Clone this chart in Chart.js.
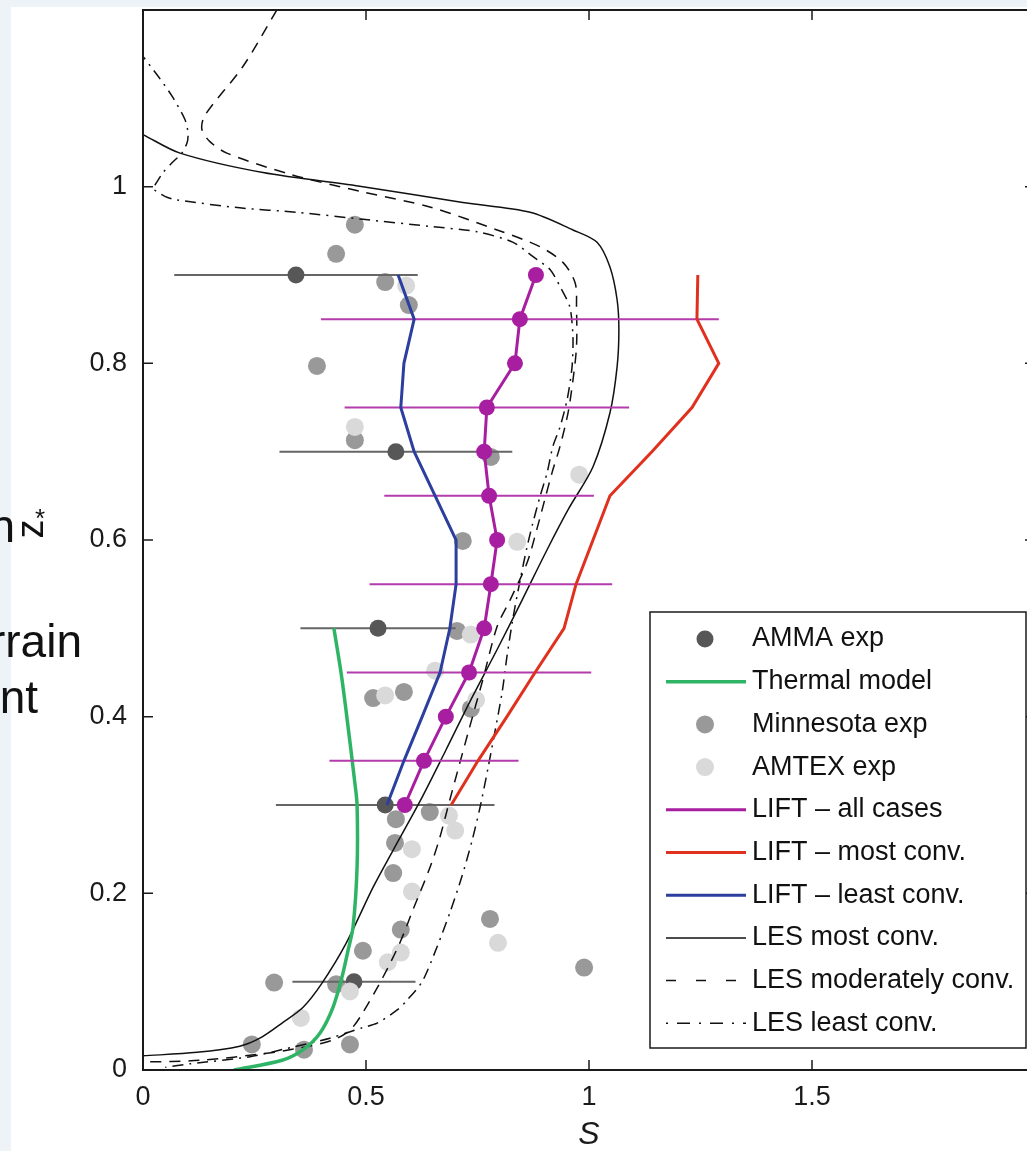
<!DOCTYPE html>
<html>
<head>
<meta charset="utf-8">
<script src="https://cdn.jsdelivr.net/npm/chart.js@4.4.1/dist/chart.umd.min.js"></script>
<style>
  html, body { margin: 0; padding: 0; overflow: hidden; background: #eef3f8; }
  canvas { display: block; }
</style>
</head>
<body>
<canvas id="myChart" width="1045" height="1151"></canvas>
<script>
// LIFT profiles, one value per level
const liftZ = [0.9, 0.85, 0.8, 0.75, 0.7, 0.65, 0.6, 0.55, 0.5, 0.45, 0.4, 0.35, 0.3];
const liftAll = [0.881, 0.845, 0.834, 0.771, 0.765, 0.776, 0.794, 0.780, 0.765, 0.731, 0.679, 0.630, 0.587];
const liftMost = [1.244, 1.242, 1.291, 1.231, 1.141, 1.047, 1.009, 0.971, 0.944, 0.879, 0.816, 0.751, 0.691];
const liftLeast = [0.572, 0.608, 0.585, 0.578, 0.608, 0.655, 0.702, 0.702, 0.688, 0.666, 0.626, 0.585, 0.547];
// spread of "all cases", every other level
const liftBarZ = [0.85, 0.75, 0.65, 0.55, 0.45, 0.35];
const liftSpread = [0.446, 0.319, 0.235, 0.272, 0.274, 0.212];

// AMMA field experiment
const ammaZ = [0.9, 0.7, 0.5, 0.3, 0.1];
const ammaS = [0.343, 0.567, 0.527, 0.543, 0.473];
const ammaSpread = [0.273, 0.261, 0.174, 0.245, 0.138];

const minnesotaS = [0.475, 0.433, 0.543, 0.596, 0.390, 0.475, 0.780, 0.717, 0.704, 0.516, 0.585, 0.735, 0.567,
  0.643, 0.565, 0.561, 0.778, 0.578, 0.493, 0.989, 0.294, 0.433, 0.361, 0.464, 0.244];
const minnesotaZ = [0.957, 0.924, 0.892, 0.866, 0.797, 0.713, 0.694, 0.599, 0.497, 0.421, 0.428, 0.409, 0.284,
  0.292, 0.257, 0.223, 0.171, 0.159, 0.135, 0.116, 0.099, 0.097, 0.023, 0.029, 0.029];

const amtexS = [0.590, 0.475, 0.978, 0.839, 0.735, 0.655, 0.543, 0.747, 0.686, 0.700, 0.603, 0.603, 0.796,
  0.578, 0.549, 0.464, 0.354];
const amtexZ = [0.888, 0.728, 0.674, 0.598, 0.493, 0.452, 0.424, 0.419, 0.288, 0.271, 0.250, 0.202, 0.144,
  0.133, 0.122, 0.089, 0.059];

const thermalS = [0.204, 0.312, 0.359, 0.397, 0.426, 0.446, 0.460, 0.471, 0.480, 0.480, 0.475, 0.457, 0.444, 0.428];
const thermalZ = [0, 0.011, 0.023, 0.042, 0.071, 0.105, 0.136, 0.162, 0.23, 0.3, 0.325, 0.4, 0.45, 0.5];

// LES profiles
const lesMostS = [0, 0.083, 0.269, 0.493, 0.717, 0.868, 0.964, 1.018, 1.047, 1.063, 1.067, 1.063, 1.047, 1.009,
  0.955, 0.906, 0.850, 0.794, 0.735, 0.679, 0.623, 0.561, 0.516, 0.455, 0.401, 0.359, 0.314, 0.262, 0.217, 0.121, 0];
const lesMostZ = [1.059, 1.038, 1.016, 1.000, 0.982, 0.971, 0.951, 0.937, 0.909, 0.872, 0.838, 0.796, 0.744, 0.683,
  0.636, 0.589, 0.532, 0.476, 0.419, 0.362, 0.306, 0.249, 0.207, 0.143, 0.098, 0.071, 0.054, 0.036, 0.027, 0.020, 0.016];

const lesModS = [0.300, 0.224, 0.139, 0.132, 0.150, 0.188, 0.330, 0.493, 0.643, 0.794, 0.890, 0.942, 0.969, 0.972,
  0.972, 0.964, 0.953, 0.935, 0.917, 0.901, 0.883, 0.861, 0.823, 0.794, 0.762, 0.729, 0.688, 0.666, 0.644, 0.605,
  0.576, 0.538, 0.493, 0.464, 0.426, 0.352, 0.278, 0.128, 0];
const lesModZ = [1.200, 1.136, 1.081, 1.065, 1.051, 1.038, 1.014, 0.994, 0.977, 0.951, 0.932, 0.914, 0.891, 0.864,
  0.819, 0.781, 0.744, 0.706, 0.676, 0.646, 0.612, 0.574, 0.532, 0.502, 0.442, 0.382, 0.306, 0.264, 0.230, 0.181,
  0.144, 0.105, 0.065, 0.045, 0.034, 0.025, 0.019, 0.011, 0.009];

const lesLeastS = [-0.01, 0.034, 0.067, 0.094, 0.101, 0.099, 0.087, 0.065, 0.045, 0.027, 0.022, 0.049, 0.076,
  0.217, 0.345, 0.493, 0.643, 0.749, 0.830, 0.874, 0.913, 0.935, 0.957, 0.964, 0.962, 0.951, 0.935, 0.919, 0.906,
  0.890, 0.874, 0.861, 0.845, 0.830, 0.816, 0.805, 0.774, 0.756, 0.738, 0.715, 0.688, 0.659, 0.626, 0.592, 0.570,
  0.525, 0.493, 0.419, 0.336, 0.240, 0.105, 0.050];
const lesLeastZ = [1.154, 1.125, 1.101, 1.076, 1.061, 1.050, 1.038, 1.027, 1.016, 1.002, 0.998, 0.989, 0.985,
  0.976, 0.971, 0.963, 0.955, 0.949, 0.937, 0.921, 0.906, 0.887, 0.864, 0.830, 0.796, 0.759, 0.728, 0.706, 0.676,
  0.649, 0.619, 0.592, 0.553, 0.513, 0.468, 0.427, 0.343, 0.298, 0.260, 0.219, 0.178, 0.139, 0.100, 0.079, 0.068,
  0.053, 0.048, 0.036, 0.026, 0.015, 0.007, 0.003];

const xTicks = [0, 0.5, 1, 1.5, 2];
const yTicks = [0, 0.2, 0.4, 0.6, 0.8, 1];

const FONT = "'Liberation Sans', Arial, Helvetica, sans-serif";
Chart.defaults.font.family = FONT;
Chart.defaults.color = '#1a1a1a';

const pts = (xs, ys) => xs.map((x, i) => ({x: x, y: ys[i]}));

// horizontal bars centre +/- spread, broken apart by NaN points
function spreadBars(levels, centers, spreads) {
  const out = [];
  levels.forEach((z, i) => {
    out.push({x: centers[i] - spreads[i], y: z});
    out.push({x: centers[i] + spreads[i], y: z});
    out.push({x: NaN, y: NaN});
  });
  return out;
}
const liftBarCenters = liftBarZ.map(z => liftAll[liftZ.indexOf(z)]);

const panel = {
  id: 'panel',
  beforeDraw(chart) {
    const c = chart.ctx;
    c.save();
    c.fillStyle = '#eef3f8';
    c.fillRect(0, 0, chart.width, chart.height);
    c.fillStyle = '#ffffff';
    c.fillRect(11, 7, chart.width - 11, chart.height - 7);
    c.restore();
  }
};

// box round the plot with inward ticks on all four sides
const frame = {
  id: 'frame',
  afterDatasetsDraw(chart) {
    const c = chart.ctx, a = chart.chartArea, x = chart.scales.x, y = chart.scales.y;
    c.save();
    c.strokeStyle = '#1a1a1a';
    c.lineWidth = 2;
    c.strokeRect(a.left, a.top, a.right - a.left, a.bottom - a.top);
    c.lineWidth = 1.5;
    c.beginPath();
    x.ticks.forEach(t => {
      const p = x.getPixelForValue(t.value);
      c.moveTo(p, a.bottom); c.lineTo(p, a.bottom - 10);
      c.moveTo(p, a.top); c.lineTo(p, a.top + 10);
    });
    y.ticks.forEach(t => {
      const p = y.getPixelForValue(t.value);
      c.moveTo(a.left, p); c.lineTo(a.left + 10, p);
      c.moveTo(a.right, p); c.lineTo(a.right - 10, p);
    });
    c.stroke();
    c.restore();
  }
};

const legendBox = {
  id: 'legendBox',
  afterDraw(chart) {
    const c = chart.ctx;
    const x0 = 650, y0 = 612, w = 376, h = 436, row0 = 639, step = 42.7;
    c.save();
    c.fillStyle = '#ffffff';
    c.fillRect(x0, y0, w, h);
    c.strokeStyle = '#1a1a1a';
    c.lineWidth = 1.5;
    c.strokeRect(x0, y0, w, h);
    let i = 0;
    chart.data.datasets.forEach(ds => {
      if (!ds.label) return;
      const y = row0 + i * step;
      if (ds.showLine) {
        c.beginPath();
        c.setLineDash(ds.legendDash || []);
        c.strokeStyle = ds.borderColor;
        c.lineWidth = ds.borderWidth;
        c.moveTo(666, y);
        c.lineTo(746, y);
        c.stroke();
        c.setLineDash([]);
      } else {
        c.beginPath();
        c.fillStyle = ds.backgroundColor;
        c.arc(705, y, ds.pointRadius, 0, 2 * Math.PI);
        c.fill();
      }
      c.fillStyle = '#111';
      c.font = '27px ' + FONT;
      c.textAlign = 'left';
      c.textBaseline = 'middle';
      c.fillText(ds.label, 752, y);
      i++;
    });
    c.restore();
  }
};

// y label and the cut-off words on the left margin
const sideText = {
  id: 'sideText',
  afterDraw(chart) {
    const c = chart.ctx;
    c.save();
    c.fillStyle = '#111';
    c.textBaseline = 'alphabetic';
    c.textAlign = 'right';
    c.font = '46px ' + FONT;
    c.fillText('n', 15, 542);
    c.fillText('rrain', 82, 657);
    c.fillText('nt', 38, 713);
    c.translate(43, 529);
    c.rotate(-Math.PI / 2);
    c.textAlign = 'center';
    c.font = '38px ' + FONT;
    c.fillText('z', 0, 0);
    c.restore();
    c.save();
    c.fillStyle = '#111';
    c.font = '26px ' + FONT;
    c.textAlign = 'center';
    c.fillText('*', 40, 527);
    c.restore();
  }
};

var ctx = document.getElementById('myChart').getContext('2d');
var myChart = new Chart(ctx, {
  type: 'scatter',
  data: {
    datasets: [{
        label: 'AMMA exp',
        data: pts(ammaS, ammaZ),
        pointRadius: 8.5,
        backgroundColor: '#575757',
        borderWidth: 0,
        order: 10
      }, {
        label: 'Thermal model',
        data: pts(thermalS, thermalZ),
        showLine: true,
        borderColor: '#2fb466',
        borderWidth: 3.5,
        pointRadius: 0,
        tension: 0.3,
        order: 5
      }, {
        label: 'Minnesota exp',
        data: pts(minnesotaS, minnesotaZ),
        pointRadius: 9,
        backgroundColor: '#999999',
        borderWidth: 0,
        order: 12
      }, {
        label: 'AMTEX exp',
        data: pts(amtexS, amtexZ),
        pointRadius: 9,
        backgroundColor: '#d9d9d9',
        borderWidth: 0,
        order: 9
      }, {
        label: 'LIFT \u2013 all cases',
        data: pts(liftAll, liftZ),
        showLine: true,
        borderColor: '#a81ea0',
        borderWidth: 3,
        pointRadius: 8,
        pointBackgroundColor: '#a81ea0',
        pointBorderWidth: 0,
        order: 1
      }, {
        label: 'LIFT \u2013 most conv.',
        data: pts(liftMost, liftZ),
        showLine: true,
        borderColor: '#e0301e',
        borderWidth: 3,
        pointRadius: 0,
        order: 2
      }, {
        label: 'LIFT \u2013 least conv.',
        data: pts(liftLeast, liftZ),
        showLine: true,
        borderColor: '#2c3e9e',
        borderWidth: 3,
        pointRadius: 0,
        order: 3
      }, {
        label: 'LES most conv.',
        data: pts(lesMostS, lesMostZ),
        showLine: true,
        borderColor: '#111111',
        borderWidth: 1.5,
        pointRadius: 0,
        tension: 0.3,
        order: 6
      }, {
        label: 'LES moderately conv.',
        data: pts(lesModS, lesModZ),
        showLine: true,
        borderColor: '#111111',
        borderWidth: 1.5,
        borderDash: [11, 8],
        legendDash: [10, 20],
        pointRadius: 0,
        tension: 0.3,
        order: 7
      }, {
        label: 'LES least conv.',
        data: pts(lesLeastS, lesLeastZ),
        showLine: true,
        borderColor: '#111111',
        borderWidth: 1.5,
        borderDash: [11, 6, 2, 6],
        legendDash: [2, 9, 13, 9],
        pointRadius: 0,
        tension: 0.25,
        order: 8
      }, {
        data: spreadBars(ammaZ, ammaS, ammaSpread),
        showLine: true,
        borderColor: '#666666',
        borderWidth: 2,
        pointRadius: 0,
        order: 11
      }, {
        data: spreadBars(liftBarZ, liftBarCenters, liftSpread),
        showLine: true,
        borderColor: '#b23cac',
        borderWidth: 2,
        pointRadius: 0,
        order: 4
      }
    ]
  },
  options: {
    responsive: false,
    devicePixelRatio: 1,
    animation: false,
    events: [],
    layout: { padding: { top: 10, right: 10, bottom: 0, left: 0 } },
    plugins: {
      legend: { display: false },
      tooltip: { enabled: false }
    },
    scales: {
      x: {
        type: 'linear',
        min: 0,
        max: 2,
        afterBuildTicks: s => { s.ticks = xTicks.map(v => ({value: v})); },
        afterFit: s => { s.height = 81; s.paddingLeft = 0; s.paddingRight = 0; },
        grid: { display: false, drawTicks: false },
        border: { display: false },
        ticks: {
          font: { size: 27 },
          padding: 11,
          color: '#1a1a1a',
          maxRotation: 0,
          autoSkip: false,
          callback: v => String(v)
        },
        title: {
          display: true,
          text: 'S',
          color: '#1a1a1a',
          font: { size: 32, style: 'italic', lineHeight: 1 },
          padding: { top: 0, bottom: 0 }
        }
      },
      y: {
        type: 'linear',
        min: 0,
        max: 1.2,
        afterBuildTicks: s => { s.ticks = yTicks.map(v => ({value: v})); },
        afterFit: s => { s.width = 143; s.paddingTop = 0; s.paddingBottom = 0; },
        grid: { display: false, drawTicks: false },
        border: { display: false },
        ticks: {
          font: { size: 27 },
          padding: 16,
          color: '#1a1a1a',
          autoSkip: false,
          callback: v => String(Math.round(v * 10) / 10)
        }
      }
    }
  },
  plugins: [panel, frame, legendBox, sideText]
});
</script>
</body>
</html>
